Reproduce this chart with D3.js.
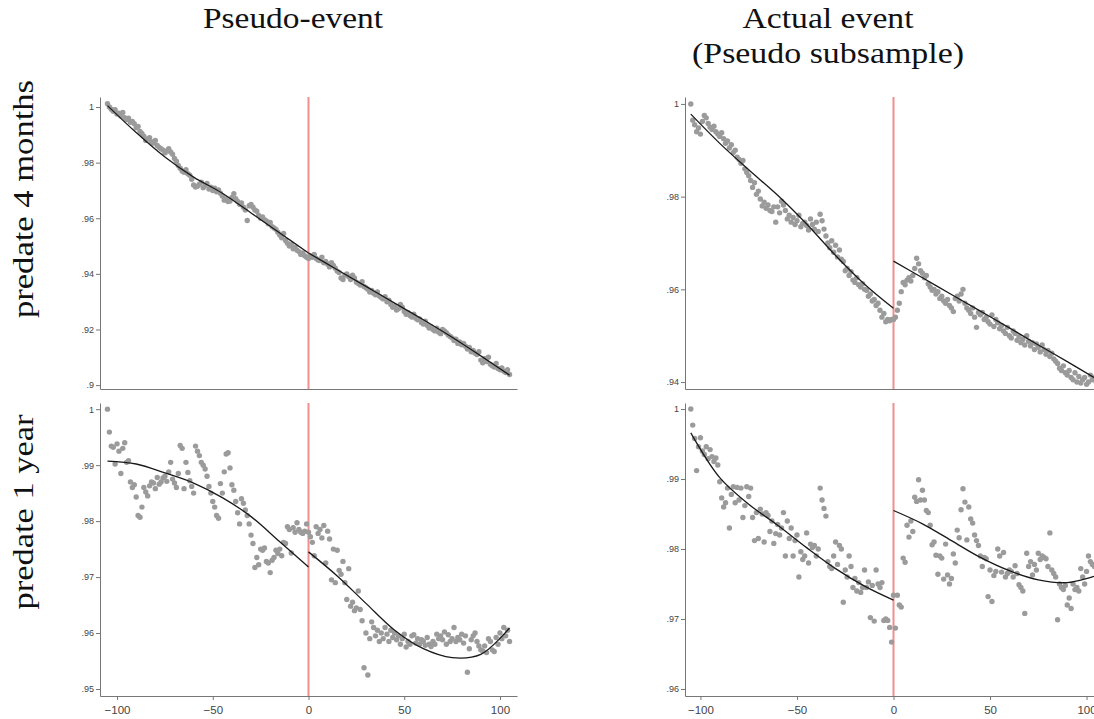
<!DOCTYPE html>
<html>
<head>
<meta charset="utf-8">
<script src="https://cdn.jsdelivr.net/npm/d3@7"></script>
<style>
  html, body { margin: 0; padding: 0; background: #fff; }
  svg { display: block; }
  .tick text { font-family: "Liberation Sans", Arial, sans-serif; fill: #444; }
  .title { font-family: "Liberation Serif", "DejaVu Serif", serif; fill: #111; }
</style>
</head>
<body>
<div id="chart"></div>
<script>
(() => {
  // running variable (days relative to event)
  const daysLeft = d3.range(-105, 0);
  const daysRight = d3.range(0, 106);

  // column / row labels
  const colTitles = [["Pseudo-event"], ["Actual event", "(Pseudo subsample)"]];
  const rowTitles = ["predate 4 months", "predate 1 year"];

  const xTicks = [-100, -50, 0, 50, 100];

  // --- top-left: pseudo-event, predate 4 months
  const tlTicks = [.9, .92, .94, .96, .98, 1];
  const tlLeft = [
    1.0012, 1.0000, .9992, .9985, .9990, .9975, .9978, .9968, .9980, .9962, .9955, .9960, .9945, .9948, .9940,
    .9925, .9930, .9912, .9905, .9895, .9880, .9885, .9890, .9875, .9870, .9880, .9862, .9855, .9850, .9845,
    .9835, .9842, .9850, .9838, .9830, .9815, .9805, .9790, .9780, .9770, .9765, .9775, .9760, .9755, .9740,
    .9720, .9712, .9715, .9722, .9730, .9710, .9718, .9725, .9705, .9712, .9700, .9708, .9695, .9702, .9690,
    .9680, .9665, .9670, .9660, .9662, .9675, .9688, .9670, .9660, .9650, .9655, .9640, .9630, .9592, .9645,
    .9650, .9640, .9630, .9625, .9610, .9600, .9605, .9595, .9590, .9580, .9585, .9570, .9565, .9560, .9550,
    .9540, .9530, .9545, .9520, .9510, .9500, .9505, .9490, .9495, .9485, .9480, .9470, .9475, .9465, .9460
  ];
  const tlRight = [
    .9455, .9465, .9460, .9470, .9455, .9450, .9448, .9460, .9440, .9445, .9435, .9425, .9440, .9430, .9420,
    .9410, .9405, .9385, .9380, .9395, .9400, .9390, .9380, .9395, .9385, .9370, .9365, .9360, .9372, .9355,
    .9350, .9345, .9335, .9340, .9330, .9325, .9335, .9320, .9315, .9310, .9318, .9300, .9305, .9290, .9280,
    .9285, .9270, .9275, .9290, .9280, .9265, .9255, .9260, .9250, .9245, .9255, .9240, .9235, .9238, .9225,
    .9220, .9230, .9215, .9205, .9210, .9200, .9195, .9205, .9190, .9185, .9200, .9195, .9188, .9180, .9175,
    .9170, .9160, .9165, .9150, .9155, .9145, .9150, .9140, .9130, .9135, .9120, .9125, .9115, .9110, .9120,
    .9090, .9080, .9095, .9085, .9100, .9075, .9070, .9065, .9078, .9060, .9055, .9062, .9050, .9045, .9055,
    .9038
  ];
  const tlFitLeft = [1.0005, .9908, .9820, .9748, .9690, .9619, .9547, .9475];
  const tlFitRight = [.9475, .9415, .9355, .9295, .9235, .9172, .9105, .9036];

  // --- top-right: actual event, predate 4 months
  const trTicks = [.94, .96, .98, 1];
  const trLeft = [
    1.0000, .9965, .9955, .9940, .9948, .9935, .9962, .9975, .9970, .9958, .9950, .9945, .9952, .9940, .9935,
    .9930, .9938, .9925, .9915, .9920, .9905, .9912, .9895, .9900, .9885, .9880, .9872, .9878, .9860, .9852,
    .9845, .9835, .9820, .9830, .9805, .9812, .9795, .9780, .9788, .9775, .9782, .9770, .9768, .9778, .9745,
    .9778, .9765, .9790, .9782, .9770, .9752, .9760, .9745, .9755, .9740, .9748, .9760, .9735, .9742, .9745,
    .9738, .9728, .9752, .9740, .9730, .9745, .9725, .9762, .9748, .9730, .9715, .9700, .9690, .9705, .9680,
    .9695, .9670, .9685, .9665, .9660, .9640, .9645, .9630, .9638, .9620, .9615, .9625, .9610, .9605, .9612,
    .9600, .9598, .9585, .9590, .9575, .9578, .9565, .9570, .9555, .9540, .9548, .9530, .9535, .9532, .9535
  ];
  const trRight = [
    .9535, .9540, .9555, .9570, .9595, .9615, .9610, .9620, .9625, .9618, .9630, .9645, .9667, .9655, .9640,
    .9635, .9625, .9630, .9612, .9605, .9598, .9600, .9590, .9595, .9580, .9585, .9575, .9570, .9578, .9565,
    .9560, .9552, .9580, .9585, .9575, .9590, .9600, .9570, .9560, .9555, .9548, .9560, .9540, .9518, .9550,
    .9545, .9550, .9535, .9540, .9530, .9525, .9545, .9520, .9535, .9528, .9515, .9522, .9510, .9505, .9518,
    .9500, .9495, .9510, .9505, .9490, .9498, .9485, .9492, .9480, .9500, .9488, .9478, .9485, .9470, .9482,
    .9475, .9465, .9480, .9470, .9460, .9468, .9455, .9462, .9450, .9445, .9440, .9430, .9425, .9435, .9420,
    .9415, .9425, .9410, .9405, .9420, .9400, .9412, .9398, .9405, .9410, .9395, .9400, .9415, .9405, .9410, .9400
  ];
  const trFitLeft = [.9978, .9915, .9858, .9803, .9741, .9673, .9611, .9559];
  const trFitRight = [.9661, .9625, .9589, .9553, .9517, .9480, .9444, .9407];

  // --- bottom-left: pseudo-event, predate 1 year
  const blTicks = [.95, .96, .97, .98, .99, 1];
  const blLeft = [
    1.0000, .9959, .9934, .9932, .9902, .9938, .9925, .9885, .9930, .9940, .9905, .9908, .9870, .9860, .9865,
    .9843, .9810, .9807, .9825, .9860, .9852, .9845, .9863, .9870, .9868, .9858, .9878, .9866, .9870, .9877,
    .9880, .9871, .9888, .9905, .9875, .9868, .9860, .9885, .9935, .9930, .9858, .9905, .9887, .9872, .9862,
    .9850, .9934, .9925, .9917, .9905, .9900, .9893, .9880, .9862, .9850, .9835, .9825, .9810, .9805, .9867,
    .9850, .9888, .9920, .9922, .9895, .9865, .9855, .9835, .9815, .9795, .9840, .9832, .9820, .9810, .9795,
    .9775, .9760, .9717, .9735, .9722, .9750, .9748, .9752, .9728, .9725, .9708, .9730, .9735, .9748, .9742,
    .9750, .9738, .9762, .9760, .9790, .9785, .9743, .9788, .9780, .9797, .9785, .9780, .9778, .9782, .9795
  ];
  const blRight = [
    .9780, .9772, .9762, .9738, .9790, .9778, .9785, .9770, .9792, .9725, .9782, .9768, .9695, .9750, .9690,
    .9748, .9712, .9705, .9728, .9690, .9660, .9715, .9648, .9655, .9640, .9645, .9675, .9642, .9622, .9538,
    .9600, .9525, .9590, .9620, .9610, .9595, .9605, .9585, .9600, .9590, .9610, .9598, .9585, .9605, .9592,
    .9600, .9588, .9595, .9580, .9590, .9598, .9575, .9585, .9580, .9595, .9597, .9582, .9590, .9580, .9588,
    .9585, .9578, .9592, .9580, .9576, .9585, .9580, .9598, .9590, .9595, .9588, .9602, .9580, .9597, .9585,
    .9590, .9610, .9585, .9592, .9588, .9598, .9582, .9595, .9530, .9572, .9588, .9595, .9600, .9585, .9577,
    .9570, .9568, .9577, .9565, .9590, .9585, .9570, .9567, .9592, .9580, .9600, .9590, .9610, .9595, .9605, .9585
  ];
  const blFitLeft = [.9907, .9902, .9886, .9868, .9842, .9808, .9763, .9718];
  const blFitRight = [.9745, .9702, .9653, .9605, .9572, .9556, .9562, .9609];

  // --- bottom-right: actual event, predate 1 year
  const brTicks = [.96, .97, .98, .99, 1];
  const brLeft = [
    1.0000, .9977, .9958, .9912, .9946, .9959, .9940, .9935, .9946, .9929, .9942, .9932, .9925, .9930, .9920,
    .9896, .9873, .9860, .9866, .9887, .9830, .9878, .9889, .9866, .9888, .9870, .9887, .9845, .9862, .9889,
    .9875, .9887, .9845, .9812, .9852, .9815, .9857, .9850, .9810, .9852, .9848, .9825, .9840, .9808, .9822,
    .9835, .9820, .9830, .9852, .9790, .9840, .9815, .9830, .9790, .9812, .9820, .9760, .9796, .9785, .9790,
    .9823, .9780, .9807, .9802, .9805, .9790, .9800, .9887, .9870, .9858, .9847, .9782, .9775, .9772, .9790,
    .9810, .9778, .9805, .9800, .9724, .9770, .9760, .9790, .9775, .9745, .9758, .9740, .9752, .9738, .9745,
    .9770, .9745, .9753, .9702, .9748, .9697, .9770, .9750, .9745, .9752, .9698, .9700, .9698, .9688, .9667
  ];
  const brRight = [
    .9734, .9687, .9734, .9720, .9717, .9787, .9781, .9834, .9817, .9840, .9825, .9874, .9868, .9899, .9870,
    .9884, .9870, .9855, .9852, .9834, .9806, .9810, .9791, .9764, .9790, .9787, .9757, .9807, .9763, .9750,
    .9758, .9793, .9780, .9827, .9816, .9856, .9886, .9867, .9813, .9860, .9843, .9837, .9820, .9812, .9805,
    .9790, .9775, .9788, .9786, .9732, .9770, .9725, .9762, .9768, .9800, .9790, .9767, .9795, .9760, .9765,
    .9770, .9768, .9760, .9776, .9765, .9749, .9745, .9740, .9708, .9794, .9775, .9782, .9763, .9778, .9770,
    .9794, .9785, .9790, .9788, .9786, .9775, .9823, .9770, .9765, .9760, .9699, .9750, .9745, .9742, .9748,
    .9720, .9730, .9715, .9750, .9742, .9745, .9740, .9772, .9760, .9750, .9768, .9790, .9782, .9778, .9775, .9780
  ];
  const brFitLeft = [.9966, .9902, .9864, .9834, .9802, .9772, .9747, .9727];
  const brFitRight = [.9855, .9836, .9812, .9788, .9769, .9756, .9752, .9762];

  const fitDaysLeft = [-105, -90, -75, -60, -45, -30, -15, 0];
  const fitDaysRight = [0, 15, 30, 45, 60, 75, 90, 105];

  const width = 1094, height = 719;
  const svg = d3.select("#chart").append("svg")
    .attr("width", width)
    .attr("height", height);

  const fmt = v => String(+v.toFixed(2)).replace(/^0\./, ".").replace(/^-0\./, "-.");

  const panels = [
    { left: 100, right: 517, top: 97, bottom: 389, xDom: [-108.9, 108.9], yDom: [.8986, 1.0036],
      ticks: tlTicks, dl: tlLeft, dr: tlRight, fl: tlFitLeft, fr: tlFitRight, xLab: false },
    { left: 685, right: 1102, top: 97, bottom: 389, xDom: [-108, 108], yDom: [.9385, 1.0015],
      ticks: trTicks, dl: trLeft, dr: trRight, fl: trFitLeft, fr: trFitRight, xLab: false },
    { left: 100, right: 517, top: 403, bottom: 696, xDom: [-108.9, 108.9], yDom: [.94875, 1.0011],
      ticks: blTicks, dl: blLeft, dr: blRight, fl: blFitLeft, fr: blFitRight, xLab: true },
    { left: 685, right: 1102, top: 403, bottom: 696, xDom: [-108, 108], yDom: [.959, 1.00086],
      ticks: brTicks, dl: brLeft, dr: brRight, fl: brFitLeft, fr: brFitRight, xLab: true }
  ];

  panels.forEach(p => {
    const x = d3.scaleLinear().domain(p.xDom).range([p.left, p.right]);
    const y = d3.scaleLinear().domain(p.yDom).range([p.bottom, p.top]);
    const g = svg.append("g");

    // event line
    g.append("line")
      .attr("x1", x(0)).attr("x2", x(0))
      .attr("y1", p.top).attr("y2", p.bottom)
      .attr("stroke", "#ef8f8f")
      .attr("stroke-width", 2);

    // dots
    const pts = daysLeft.map((d, i) => [d, p.dl[i]])
      .concat(daysRight.map((d, i) => [d, p.dr[i]]));
    g.selectAll(".dot")
      .data(pts)
      .enter().append("circle")
      .attr("cx", d => x(d[0]))
      .attr("cy", d => y(d[1]))
      .attr("r", 2.7)
      .attr("fill", "#9b9b9b");

    // fitted polynomials, one on each side of the event
    const line = d3.line()
      .x(d => x(d[0]))
      .y(d => y(d[1]))
      .curve(d3.curveCatmullRom);
    [[fitDaysLeft, p.fl], [fitDaysRight, p.fr]].forEach(([ds, vs]) => {
      g.append("path")
        .datum(ds.map((d, i) => [d, vs[i]]))
        .attr("d", line)
        .attr("fill", "none")
        .attr("stroke", "#1a1a1a")
        .attr("stroke-width", 1.3);
    });

    // y axis
    const ya = g.append("g")
      .attr("transform", `translate(${p.left},0)`)
      .call(d3.axisLeft(y).tickValues(p.ticks).tickFormat(fmt).tickSize(4).tickPadding(2).tickSizeOuter(0));
    ya.selectAll("text").style("font-size", "9px");

    // x axis
    const xa = g.append("g")
      .attr("transform", `translate(0,${p.bottom})`)
      .call(p.xLab
        ? d3.axisBottom(x).tickValues(xTicks).tickSize(4).tickPadding(6).tickSizeOuter(0)
        : d3.axisBottom(x).tickValues([]).tickSizeOuter(0));
    xa.selectAll("text").style("font-size", "11.5px");

    [ya, xa].forEach(a => {
      a.select(".domain").attr("stroke", "#777");
      a.selectAll(".tick line").attr("stroke", "#777");
    });
  });

  // column titles
  const colCenters = [293, 828];
  const colLens = [[180], [171, 272]];
  colTitles.forEach((lines, c) => {
    lines.forEach((t, k) => {
      svg.append("text")
        .attr("class", "title")
        .attr("x", colCenters[c])
        .attr("y", 28 + k * 35)
        .attr("text-anchor", "middle")
        .attr("textLength", colLens[c][k])
        .attr("lengthAdjust", "spacingAndGlyphs")
        .style("font-size", "29px")
        .text(t);
    });
  });

  // row titles
  const rowCenters = [199, 512];
  const rowLens = [238, 195];
  rowTitles.forEach((t, r) => {
    svg.append("text")
      .attr("class", "title")
      .attr("transform", `translate(33,${rowCenters[r]}) rotate(-90)`)
      .attr("text-anchor", "middle")
      .attr("textLength", rowLens[r])
      .attr("lengthAdjust", "spacingAndGlyphs")
      .style("font-size", "29px")
      .text(t);
  });
})();
</script>
</body>
</html>
